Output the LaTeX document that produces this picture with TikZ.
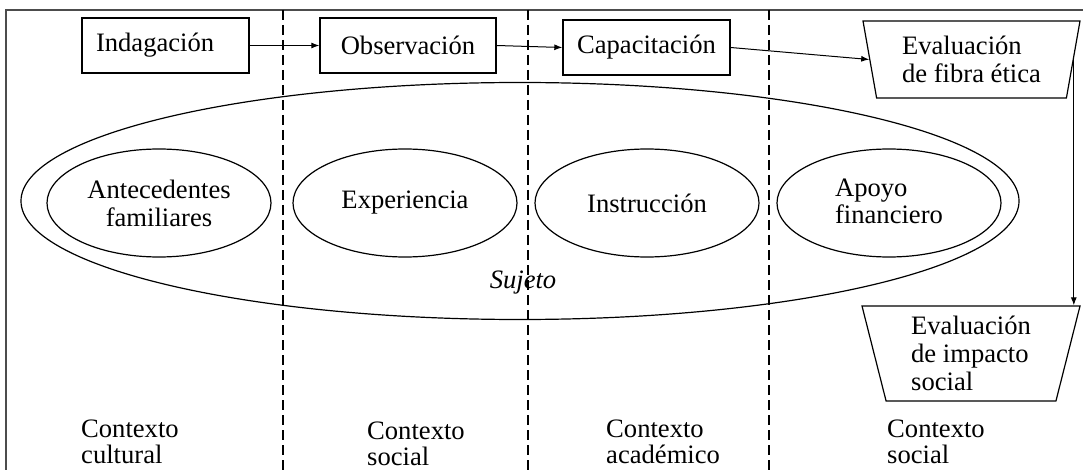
\documentclass[tikz,border=0pt]{standalone}
\usepackage{fontspec}
\setmainfont{Liberation Serif}
\usetikzlibrary{arrows.meta,shapes.geometric,positioning}

\begin{document}
\begin{tikzpicture}[x=1pt,y=-1pt,font=\fontsize{26.6}{28}\selectfont,>={Latex[length=8pt,width=6pt]},
 box/.style={draw,line width=1.4pt,minimum height=55pt,inner sep=0pt},
 oval/.style={draw,ellipse,line width=1.2pt,minimum width=224pt,minimum height=108pt,inner sep=0pt,align=center},
 evalbox/.style={draw,trapezium,shape border rotate=180,trapezium stretches body,line width=1.2pt,inner sep=2pt,align=left},
 ctx/.style={anchor=west,align=left,inner sep=0pt,font=\fontsize{26.6}{26.5}\selectfont},
 link/.style={->,line width=1pt}]
 \clip (0,0) rectangle (1083,470);
 % marco y separadores de contexto
 \draw[black!70,line width=2pt] (6,10) rectangle (1100,480);
 \foreach \x in {283,528,769}
  \draw[dash pattern=on 10pt off 5pt,line width=1.2pt] (\x,10) -- (\x,470);
 % etapas
 \node[box,minimum width=167pt,text width=139pt,align=left] (indag) at (165.5,45.5) {Indagación};
 \node[box,minimum width=176pt] (obs) at (408,45.5) {Observación};
 \node[box,minimum width=167pt] (capac) at (646.5,47.5) {Capacitación};
 \node[evalbox,trapezium angle=75,minimum width=217pt,minimum height=77pt] (fibra) at (971.5,59.5) {Evaluación\\de fibra ética};
 \node[evalbox,trapezium angle=73,minimum width=218pt,minimum height=95pt] (impacto) at (971,353.5) {Evaluación\\de impacto\\social};
 % sujeto
 \node[draw,ellipse,line width=1.2pt,minimum width=998pt,minimum height=237pt] (sujeto) at (520,201) {};
 \node[font=\fontsize{26.6}{28}\selectfont\itshape] (sujetolbl) at (523,283) {Sujeto};
 \node[oval] (antec) at (159,203) {Antecedentes\\familiares};
 \node[oval] (exper) at (405,203) {Experiencia};
 \node[oval] (instr) at (647,203) {Instrucción};
 \node[oval,align=left] (apoyo) at (889,203) {\raisebox{4pt}{\shortstack[l]{Apoyo\\financiero}}};
 % flujo
 \draw[link] (indag.east) -- (obs.west);
 \draw[link] (obs.east) -- (capac.west);
 \draw[link] (capac.east) -- (fibra.west);
 \draw[link] (fibra.east) -- (fibra.east |- impacto.north);
 % contextos
 \node[ctx] (cultural) at (81,442) {Contexto\\cultural};
 \node[ctx] (social) at (367,444) {Contexto\\social};
 \node[ctx] (academico) at (606,442) {Contexto\\académico};
 \node[ctx] (socialb) at (887,442) {Contexto\\social};
\end{tikzpicture}
\end{document}
